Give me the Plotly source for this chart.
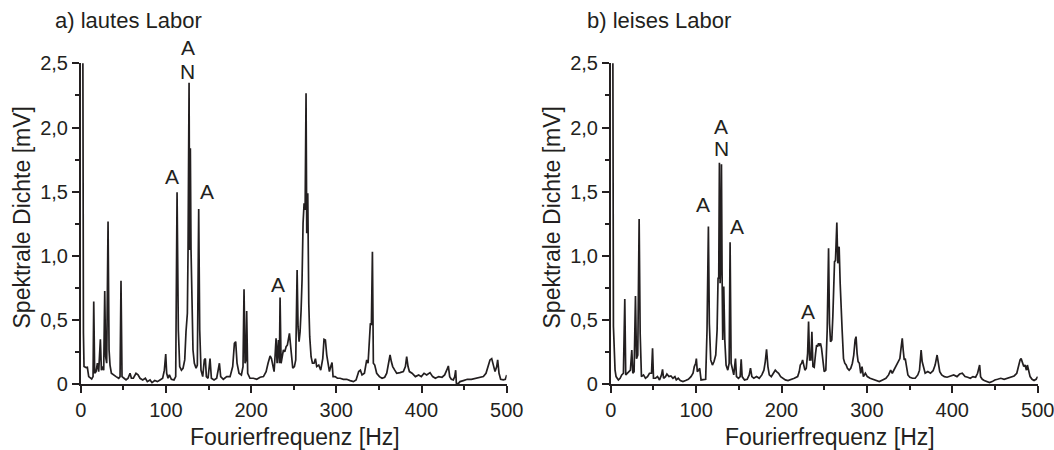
import plotly.graph_objects as go

# ---------------- data: a) lautes Labor ----------------
freq_a = [1.0, 2.5, 3.2, 3.9, 6.3, 7.8, 9.4, 12.9, 14.5, 15.3, 16.4, 18.0, 19.6, 21.1, 23.1, 24.3, 25.8, 27.0,
          28.2, 29.3, 30.5, 32.1, 33.3, 34.4, 36.0, 38.3, 41.5, 44.6, 46.2, 47.3, 48.5, 50.9, 53.2, 55.6,
          57.9, 59.5, 61.8, 64.9, 67.3, 69.6, 72.8, 75.9, 78.2, 81.4, 83.7, 86.9, 90.0, 93.1, 96.2, 98.2,
          99.8, 100.9, 102.5, 104.1, 106.4, 109.5, 111.5, 113.1, 114.6, 116.2, 118.2, 120.1, 122.1, 123.6,
          125.2, 126.0, 127.2, 127.9, 128.7, 129.5, 130.7, 131.8, 133.4, 135.4, 136.9, 138.5, 139.7, 141.2,
          143.2, 145.1, 146.3, 147.5, 149.5, 151.8, 153.4, 156.5, 159.6, 162.8, 164.3, 167.4, 171.4, 175.3,
          178.4, 180.4, 181.9, 183.5, 185.8, 188.6, 190.5, 191.7, 192.9, 194.1, 194.8, 196.0, 198.7,
          202.7, 206.6, 210.6, 214.5, 217.6, 219.9, 222.3, 223.9, 225.4, 227.0, 228.2, 229.3, 230.5, 232.1,
          233.2, 234.0, 235.2, 236.4, 237.9, 239.5, 241.1, 242.6, 244.2, 245.0, 246.1, 247.3, 248.9, 250.8,
          252.4, 254.0, 255.1, 256.3, 257.5, 258.7, 259.8, 261.0, 262.2, 263.4, 264.5, 265.3, 266.5, 267.7,
          268.8, 270.4, 272.0, 273.9, 275.5, 277.0, 279.4, 281.7, 284.1, 285.6, 287.2, 288.8, 290.3, 291.9,
          293.5, 295.0, 296.2, 298.6, 301.3, 304.4, 308.3, 312.2, 316.2, 320.1, 323.2, 326.3, 328.3, 330.2,
          333.0, 335.7, 337.3, 338.8, 340.0, 341.2, 342.4, 343.5, 345.1, 347.4, 350.6, 353.7, 356.8, 359.2,
          361.2, 363.1, 364.6, 366.2, 368.6, 370.9, 374.8, 378.7, 381.1, 382.6, 384.2, 385.8, 388.9, 392.8,
          396.7, 399.8, 403.0, 406.1, 410.0, 413.1, 416.3, 420.2, 424.1, 427.2, 429.6, 431.5, 433.1, 435.0,
          437.4, 439.0, 440.1, 440.9, 442.9, 445.2, 449.1, 453.8, 458.5, 463.2, 467.9, 472.6, 475.7, 478.5,
          480.4, 482.4, 484.4, 486.3, 488.3, 489.4, 491.0, 492.9, 496.0, 498.4, 500.0]
dichte_a = [2.7, 2.7, 0.4, 0.138, 0.13, 0.132, 0.06, 0.042, 0.06, 0.644, 0.086, 0.099, 0.164, 0.099, 0.35, 0.11,
            0.138, 0.11, 0.727, 0.215, 0.164, 1.267, 0.267, 0.15, 0.086, 0.073, 0.06, 0.047, 0.06, 0.807,
            0.06, 0.047, 0.034, 0.047, 0.086, 0.047, 0.047, 0.086, 0.073, 0.047, 0.034, 0.047, 0.021, 0.034,
            0.013, 0.029, 0.021, 0.034, 0.047, 0.11, 0.236, 0.086, 0.047, 0.073, 0.039, 0.034, 0.06, 1.495,
            0.423, 0.138, 0.11, 0.125, 0.19, 0.41, 0.553, 1.046, 2.349, 1.046, 1.838, 1.046, 0.501, 0.267,
            0.164, 0.125, 0.15, 1.366, 0.423, 0.11, 0.06, 0.19, 0.2, 0.06, 0.047, 0.2, 0.047, 0.034, 0.047,
            0.164, 0.06, 0.039, 0.06, 0.06, 0.138, 0.319, 0.332, 0.164, 0.086, 0.073, 0.138, 0.74, 0.164,
            0.19, 0.571, 0.086, 0.047,
            0.047, 0.039, 0.055, 0.06, 0.099, 0.164, 0.221, 0.2, 0.15, 0.099, 0.228, 0.358, 0.164, 0.345,
            0.164, 0.675, 0.164, 0.228, 0.267, 0.254, 0.293, 0.306, 0.371, 0.397, 0.319, 0.2, 0.125, 0.138,
            0.19, 0.89, 0.449, 0.332, 0.41, 0.579, 0.813, 1.254, 1.41, 1.358, 2.266, 1.176, 1.488, 0.631,
            0.371, 0.215, 0.164, 0.164, 0.2, 0.138, 0.15, 0.11, 0.2, 0.35, 0.345, 0.228, 0.164, 0.099,
            0.138, 0.169, 0.06, 0.06, 0.047, 0.047, 0.039, 0.039, 0.029, 0.021, 0.034, 0.099, 0.11, 0.073,
            0.086, 0.19, 0.164, 0.332, 0.475, 0.462, 1.033, 0.164, 0.15, 0.086, 0.06, 0.047, 0.055, 0.086,
            0.164, 0.228, 0.177, 0.138, 0.11, 0.086, 0.091, 0.099, 0.138, 0.215, 0.138, 0.099, 0.086, 0.06,
            0.073, 0.06, 0.086, 0.073, 0.091, 0.06, 0.047, 0.06, 0.055, 0.073, 0.11, 0.143, 0.06, 0.039,
            0.034, 0.06, 0.11, 0.008, 0.003, 0.021, 0.029, 0.039, 0.039, 0.047, 0.052, 0.06, 0.086, 0.138,
            0.19, 0.2, 0.138, 0.099, 0.138, 0.19, 0.086, 0.039, 0.034, 0.039, 0.073]

# ---------------- data: b) leises Labor ----------------
freq_b = [1.0, 2.5, 3.2, 3.9, 5.1, 6.3, 9.0, 11.0, 12.9, 14.9, 16.5, 17.6, 19.6, 21.5, 23.1, 24.7, 25.9, 27.4,
          29.0, 30.2, 31.7, 33.3, 34.5, 36.0, 38.4, 40.7, 43.1, 45.4, 47.8, 49.0, 50.1, 52.5, 54.8, 57.2,
          59.5, 60.7, 61.9, 64.2, 65.8, 68.2, 70.5, 72.9, 75.2, 76.8, 79.1, 81.5, 84.6, 87.7, 90.9, 94.0,
          96.4, 97.9, 99.5, 100.3, 101.4, 103.0, 104.2, 105.8, 108.9, 111.2, 112.8, 114.4, 115.5, 117.1,
          119.1, 121.0, 123.0, 124.6, 125.7, 126.5, 127.3, 128.1, 128.9, 129.7, 130.4, 131.2, 132.4, 133.6,
          135.1, 137.1, 138.7, 139.8, 141.0, 142.6, 144.1, 146.1, 147.3, 149.6, 151.6, 152.8, 153.9, 156.7,
          159.8, 162.2, 163.7, 165.3, 167.6, 170.8, 173.9, 177.0, 179.4, 181.0, 182.5, 184.1, 185.7, 188.0,
          190.4, 192.7, 194.3, 196.6, 199.0, 201.3, 204.5, 207.6, 210.7,
          215.0, 218.9, 220.8, 222.0, 223.6, 224.7, 225.9, 227.4, 229.0, 230.6, 231.7, 232.9, 234.4, 235.6,
          236.8, 238.3, 239.9, 241.1, 242.2, 243.4, 244.6, 245.7, 246.9, 248.4, 250.0, 251.9, 253.5, 255.1,
          256.2, 257.4, 258.9, 260.1, 260.9, 262.1, 263.2, 264.8, 265.9, 267.5, 268.7, 269.8, 271.0, 272.6,
          274.1, 275.7, 277.2, 279.2, 281.1, 283.0, 284.6, 286.2, 287.3, 288.5, 289.7, 291.2, 292.8, 294.3,
          295.9, 298.2, 300.5, 303.7, 306.8, 310.7, 314.5, 318.4, 322.3, 325.4, 327.8, 329.7, 331.6, 334.0,
          336.3, 338.6, 340.2, 341.4, 342.5, 343.7, 344.9, 346.4, 348.0, 350.3, 353.4, 356.5, 359.6, 361.6,
          363.5, 364.7, 365.9, 368.2, 371.3, 374.4, 377.5, 379.9, 382.2, 383.7, 385.3, 387.6, 390.7, 393.9,
          397.7, 401.6, 405.5, 408.6, 411.7, 414.9, 418.0, 421.1, 424.2, 427.3, 429.6, 431.2, 432.0, 433.1,
          435.1, 437.4, 440.5, 443.6, 446.7, 449.8, 453.0, 456.8, 460.7, 464.6, 468.5, 472.4, 475.5, 477.8,
          479.4, 480.6, 482.1, 483.7, 485.2, 486.8, 487.9, 489.5, 491.1, 493.4, 495.7, 498.1, 500.0]
dichte_b = [2.7, 2.7, 0.45, 0.254, 0.11, 0.06, 0.034, 0.047, 0.073, 0.086, 0.665, 0.073, 0.086, 0.106, 0.11,
            0.267, 0.086, 0.099, 0.688, 0.2, 0.228, 1.288, 0.397, 0.06, 0.073, 0.047, 0.06, 0.086, 0.086, 0.28,
            0.047, 0.047, 0.06, 0.034, 0.073, 0.117, 0.047, 0.06, 0.08, 0.06, 0.065, 0.047, 0.06, 0.034,
            0.047, 0.029, 0.021, 0.029, 0.039, 0.06, 0.086, 0.138, 0.164, 0.2, 0.099, 0.11, 0.125, 0.034,
            0.034, 0.039, 0.423, 1.228, 0.475, 0.19, 0.15, 0.177, 0.228, 0.423, 0.826, 0.826, 1.726, 0.787,
            0.942, 1.713, 0.89, 0.345, 0.761, 0.345, 0.15, 0.11, 0.164, 1.106, 0.164, 0.099, 0.073, 0.2,
            0.06, 0.047, 0.06, 0.195, 0.06, 0.034, 0.039, 0.073, 0.125, 0.06, 0.047, 0.06, 0.047, 0.073,
            0.11, 0.177, 0.273, 0.138, 0.073, 0.06, 0.086, 0.11, 0.099, 0.086, 0.06, 0.047, 0.034, 0.029,
            0.034,
            0.047, 0.06, 0.099, 0.15, 0.164, 0.19, 0.138, 0.11, 0.125, 0.241, 0.488, 0.19, 0.19, 0.41,
            0.138, 0.132, 0.241, 0.306, 0.293, 0.319, 0.306, 0.319, 0.28, 0.164, 0.099, 0.11, 0.423, 1.059,
            0.475, 0.332, 0.345, 0.527, 0.683, 0.955, 0.963, 1.259, 0.942, 1.072, 0.787, 0.553, 0.423, 0.2,
            0.164, 0.15, 0.125, 0.11, 0.125, 0.164, 0.228, 0.345, 0.371, 0.241, 0.177, 0.164, 0.086, 0.138,
            0.06, 0.086, 0.06, 0.047, 0.039, 0.034, 0.021, 0.034, 0.047, 0.073, 0.11, 0.086, 0.11, 0.138,
            0.164, 0.2, 0.293, 0.358, 0.267, 0.19, 0.2, 0.138, 0.073, 0.055, 0.047, 0.047, 0.073, 0.11,
            0.267, 0.177, 0.138, 0.086, 0.099, 0.086, 0.106, 0.15, 0.228, 0.15, 0.099, 0.073, 0.06, 0.055,
            0.065, 0.073, 0.06, 0.08, 0.086, 0.06, 0.055, 0.047, 0.06, 0.055, 0.086, 0.125, 0.15, 0.06,
            0.039, 0.029, 0.021, 0.013, 0.021, 0.034, 0.039, 0.047, 0.039, 0.047, 0.055, 0.065, 0.086, 0.15,
            0.19, 0.2, 0.164, 0.138, 0.15, 0.11, 0.15, 0.099, 0.06, 0.039, 0.029, 0.039, 0.06]

# ---------------- labels ----------------
panel_titles = ["a) lautes Labor", "b) leises Labor"]
x_title = "Fourierfrequenz [Hz]"
y_title = "Spektrale Dichte [mV]"
x_ticks = [0, 100, 200, 300, 400, 500]
y_ticks = [0, 0.5, 1.0, 1.5, 2.0, 2.5]
y_ticktext = ["0", "0,5", "1,0", "1,5", "2,0", "2,5"]
Y_MAX = 2.5

# peak marker labels (text, freq, value)
marks_a = [("A", 125.6, 2.62), ("N", 125.6, 2.44), ("A", 107.5, 1.62), ("A", 148.6, 1.50), ("A", 232.0, 0.775)]
marks_b = [("A", 129.2, 2.01), ("N", 129.2, 1.84), ("A", 107.7, 1.40), ("A", 148.2, 1.23), ("A", 231.4, 0.565)]

INK = "#231f20"
FONT = "Liberation Sans"
W, H = 1054, 450

fig = go.Figure()
fig.add_trace(go.Scatter(x=freq_a, y=dichte_a, mode="lines", line=dict(color=INK, width=1.7),
                         xaxis="x", yaxis="y", showlegend=False))
fig.add_trace(go.Scatter(x=freq_b, y=dichte_b, mode="lines", line=dict(color=INK, width=1.7),
                         xaxis="x2", yaxis="y2", showlegend=False))

xdom = [[80.7 / W, 506.7 / W], [610.7 / W, 1037.7 / W]]
ydom = [1 - 384.3 / H, 1 - 63.3 / H]

def xax(dom, anchor):
    return dict(domain=dom, anchor=anchor, range=[0, 500], tickvals=x_ticks, automargin=False,
                ticklabeloverflow="allow",
                ticks="outside", ticklen=7, tickwidth=1.5, tickcolor=INK,
                showline=True, linecolor=INK, linewidth=1.5, showgrid=False, zeroline=False,
                minor=dict(dtick=50, tick0=0, ticks="outside", ticklen=4, tickwidth=1.5, tickcolor=INK),
                tickfont=dict(family=FONT, size=20, color=INK), fixedrange=True)

def yax(anchor):
    return dict(domain=ydom, anchor=anchor, range=[0, Y_MAX], tickvals=y_ticks, ticktext=y_ticktext,
                automargin=False, ticklabeloverflow="allow",
                ticks="outside", ticklen=7, tickwidth=1.5, tickcolor=INK,
                showline=True, linecolor=INK, linewidth=1.5, showgrid=False, zeroline=False,
                minor=dict(dtick=0.25, tick0=0, ticks="outside", ticklen=4, tickwidth=1.5, tickcolor=INK),
                tickfont=dict(family=FONT, size=20, color=INK), fixedrange=True)

annotations = []
for i, ttl in enumerate(panel_titles):
    tx = [52.7, 585.0][i]
    annotations.append(dict(text=ttl, xref="paper", yref="paper", x=tx / W, y=1 - 21 / H,
                            xanchor="left", yanchor="middle", showarrow=False,
                            font=dict(family=FONT, size=22, color=INK)))
    annotations.append(dict(text=x_title, xref="paper", yref="paper", x=[295, 830][i] / W, y=1 - 437 / H,
                            xanchor="center", yanchor="middle", showarrow=False,
                            font=dict(family=FONT, size=23, color=INK)))
    annotations.append(dict(text=y_title, xref="paper", yref="paper", x=[21, 551][i] / W, y=1 - 217.5 / H,
                            xanchor="center", yanchor="middle", textangle=-90, showarrow=False,
                            font=dict(family=FONT, size=23, color=INK)))

for marks, xr, yr in [(marks_a, "x", "y"), (marks_b, "x2", "y2")]:
    for txt, fx, fy in marks:
        # use the y-domain reference so labels above the axis range stay visible
        annotations.append(dict(text=txt, xref=xr, yref=yr + " domain", x=fx, y=fy / Y_MAX,
                                xanchor="center", yanchor="middle",
                                showarrow=False, font=dict(family=FONT, size=21, color=INK)))

fig.update_layout(
    width=W, height=H, margin=dict(l=0, r=0, t=0, b=0),
    paper_bgcolor="white", plot_bgcolor="white",
    separators=", ",
    xaxis=xax(xdom[0], "y"), yaxis=yax("x"),
    xaxis2=xax(xdom[1], "y2"), yaxis2=yax("x2"),
    annotations=annotations,
)

# remove the browser's default page margin so the figure sits at the window's top-left corner
fig.write_html("out.html", config={"displayModeBar": False},
               post_script="document.body.style.margin='0';")
